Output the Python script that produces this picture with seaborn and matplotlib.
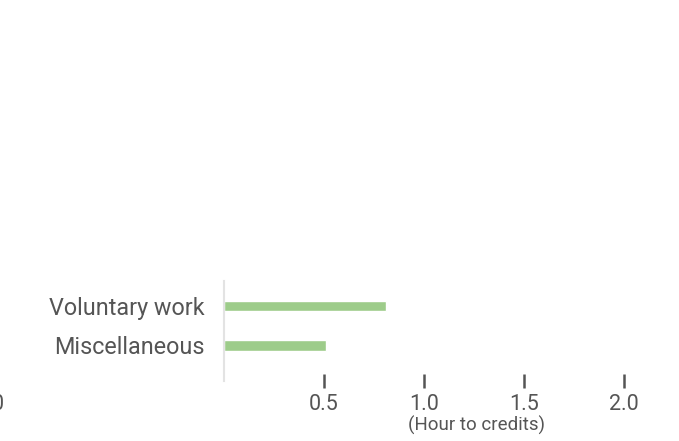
import matplotlib
matplotlib.use('Agg')
import matplotlib.pyplot as plt
import seaborn as sns
import pandas as pd

# dados
categories = ['Voluntary work', 'Miscellaneous']
values = [0.81, 0.51]
ticks = [0.5, 1.0, 1.5, 2.0]
tick_labels = ['0.5', '1.0', '1.5', '2.0']
x_label = '(Hour to credits)'

df = pd.DataFrame({'category': categories, 'value': values})

sns.set_style('white')
plt.rcParams['font.family'] = ['Roboto', 'DejaVu Sans']
text_color = '#555555'

fig = plt.figure(figsize=(6.79, 4.41), dpi=100)
ax = fig.add_axes([224 / 679, 1 - 381 / 441, 440 / 679, 100 / 441])

sns.barplot(ax=ax, data=df, x='value', y='category', color='#9dcc8a',
            saturation=1, width=0.28, orient='h')

ax.set_xlim(0, 2.2)
ax.set_ylim(1.92, -0.64)

for s in ['top', 'right', 'bottom']:
    ax.spines[s].set_visible(False)
ax.spines['left'].set_color('#e3e3e3')
ax.spines['left'].set_linewidth(1.5)

ax.set_xticks(ticks)
ax.set_xticklabels(tick_labels)
ax.tick_params(axis='x', bottom=True, direction='inout', length=10, width=1.8,
               color=text_color, labelcolor=text_color, labelsize=15.5, pad=4)
ax.tick_params(axis='y', left=False, length=0, labelcolor=text_color,
               labelsize=16.8, pad=14)
ax.set_xlabel('')
ax.set_ylabel('')

fig.text(477 / 679, 1 - 425 / 441, x_label, ha='center', va='center',
         fontsize=13.5, color=text_color)
# o "0" cortado na borda esquerda
fig.text(-2 / 679, 1 - 405 / 441, '0', ha='center', va='center',
         fontsize=15.5, color=text_color)

fig.savefig('out.png', dpi=100)
